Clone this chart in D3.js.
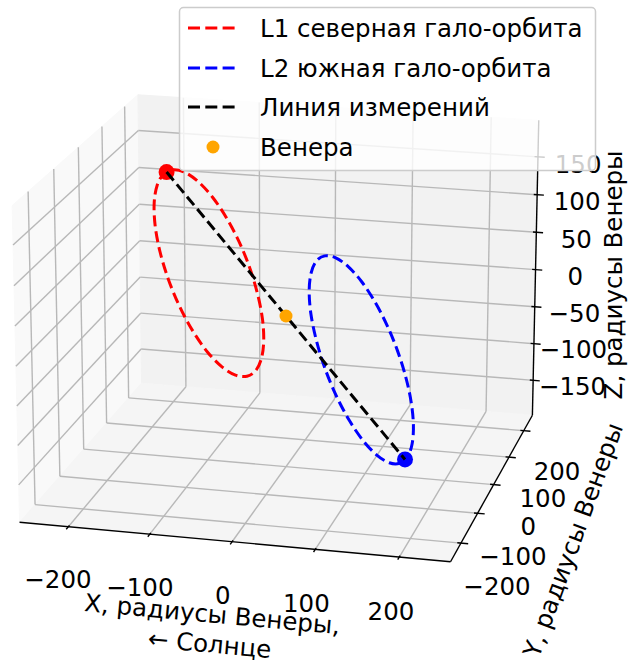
<!DOCTYPE html>
<html><head><meta charset="utf-8">
<script src="https://cdn.jsdelivr.net/npm/d3@7"></script>
<style>
body{margin:0;background:#fff}
svg{display:block}
text{font-family:"DejaVu Sans",sans-serif;fill:#000}
</style></head>
<body>
<svg id="chart" width="630" height="663"></svg>
<script>
// ---------------- data ----------------
const xLim = [-250, 250];
const yLim = [-250, 250];
const zLim = [-190, 190];
const xTicks = [-200, -100, 0, 100, 200];
const yTicks = [-200, -100, 0, 100, 200];
const zTicks = [-150, -100, -50, 0, 50, 100, 150];

// L1 northern halo orbit (x, y, z in Venus radii)
const l1X = [-153, -151, -145.3, -136.2, -124.3, -110.4, -95.5, -80.6, -66.8, -54.8, -45.7, -40, -38, -40, -45.7, -54.8, -66.8, -80.6, -95.5, -110.4, -124.3, -136.2, -145.3, -151];
const l1Y = [0, 35.7, 69, 97.6, 119.5, 133.3, 138, 133.3, 119.5, 97.6, 69, 35.7, 0, -35.7, -69, -97.6, -119.5, -133.3, -138, -133.3, -119.5, -97.6, -69, -35.7];
const l1Z = [171, 166.8, 154.6, 135.1, 109.8, 80.2, 48.5, 16.8, -12.8, -38.1, -57.6, -69.8, -74, -69.8, -57.6, -38.1, -12.8, 16.8, 48.5, 80.2, 109.8, 135.1, 154.6, 166.8];
// L2 southern halo orbit
const l2X = [153, 151, 145.3, 136.2, 124.3, 110.4, 95.5, 80.6, 66.8, 54.8, 45.7, 40, 38, 40, 45.7, 54.8, 66.8, 80.6, 95.5, 110.4, 124.3, 136.2, 145.3, 151];
const l2Y = [0, -35.7, -69, -97.6, -119.5, -133.3, -138, -133.3, -119.5, -97.6, -69, -35.7, 0, 35.7, 69, 97.6, 119.5, 133.3, 138, 133.3, 119.5, 97.6, 69, 35.7];
const l2Z = [-171, -166.8, -154.6, -135.1, -109.8, -80.2, -48.5, -16.8, 12.8, 38.1, 57.6, 69.8, 74, 69.8, 57.6, 38.1, 12.8, -16.8, -48.5, -80.2, -109.8, -135.1, -154.6, -166.8];
// spacecraft positions and Venus
const l1Sat = [-152, 10, 171];
const l2Sat = [152, -10, -171];
const venusPos = [0, 0, 0];
const legendLabels = ["L1 северная гало-орбита", "L2 южная гало-орбита", "Линия измерений", "Венера"];
const seriesColors = ["#ff0000", "#0000ff", "#000000", "#ffa500"];

// ---------------- view ----------------
const elev = 18, azim = -76, dist = 17.5, focal = 3745, cx = 286, cy = 316;
const FS = 24.5;

const pad = r => (r[1] - r[0]) / 48;
const xS = d3.scaleLinear().domain([xLim[0] - pad(xLim), xLim[1] + pad(xLim)]).range([-1, 1]);
const yS = d3.scaleLinear().domain([yLim[0] - pad(yLim), yLim[1] + pad(yLim)]).range([-1, 1]);
const zS = d3.scaleLinear().domain([zLim[0] - pad(zLim), zLim[1] + pad(zLim)]).range([-0.75, 0.75]);

const el = elev * Math.PI / 180, az = azim * Math.PI / 180;
const U = [-Math.sin(az), Math.cos(az), 0];
const V = [-Math.sin(el) * Math.cos(az), -Math.sin(el) * Math.sin(az), Math.cos(el)];
const Wv = [Math.cos(el) * Math.cos(az), Math.cos(el) * Math.sin(az), Math.sin(el)];
const dot = (a, b) => a[0] * b[0] + a[1] * b[1] + a[2] * b[2];
function pb(p) { // box coords -> screen
  const d = dist - dot(p, Wv);
  return [cx + focal * dot(p, U) / d, cy - focal * dot(p, V) / d];
}
const pd = (x, y, z) => pb([xS(x), yS(y), zS(z)]);

const svg = d3.select("#chart");
const line = d3.line();
const X0 = -1, X1 = 1, Y0 = -1, Y1 = 1, Z0 = -0.75, Z1 = 0.75;

// panes
const panes = [
  {c: "#f9f9f9", p: [[X0, Y0, Z0], [X0, Y1, Z0], [X0, Y1, Z1], [X0, Y0, Z1]]},
  {c: "#f2f2f2", p: [[X0, Y1, Z0], [X1, Y1, Z0], [X1, Y1, Z1], [X0, Y1, Z1]]},
  {c: "#f5f5f5", p: [[X0, Y0, Z0], [X1, Y0, Z0], [X1, Y1, Z0], [X0, Y1, Z0]]}
];
svg.append("g").selectAll("path").data(panes).join("path")
  .attr("d", d => line(d.p.map(pb)) + "Z")
  .attr("fill", d => d.c).attr("stroke", d => d.c).attr("stroke-width", 1);

// grid
const grid = [];
xTicks.forEach(t => { const X = xS(t); grid.push([[X, Y0, Z0], [X, Y1, Z0]], [[X, Y1, Z0], [X, Y1, Z1]]); });
yTicks.forEach(t => { const Y = yS(t); grid.push([[X0, Y, Z0], [X1, Y, Z0]], [[X0, Y, Z0], [X0, Y, Z1]]); });
zTicks.forEach(t => { const Z = zS(t); grid.push([[X0, Y1, Z], [X1, Y1, Z]], [[X0, Y0, Z], [X0, Y1, Z]]); });
svg.append("g").selectAll("path").data(grid).join("path")
  .attr("d", d => line(d.map(pb))).attr("fill", "none")
  .attr("stroke", "#b8b8b8").attr("stroke-width", 1.4);

// axis lines
const axes = [[[X0, Y0, Z0], [X1, Y0, Z0]], [[X1, Y0, Z0], [X1, Y1, Z0]], [[X1, Y1, Z0], [X1, Y1, Z1]]];
svg.append("g").selectAll("path").data(axes).join("path")
  .attr("d", d => line(d.map(pb))).attr("fill", "none")
  .attr("stroke", "#000").attr("stroke-width", 1.4);

// ticks
const tin = 0.0167, tout = 0.033, lo = 0.1667, lz = 0.125, ldy = 14;
const tg = svg.append("g");
const tl = svg.append("g").attr("font-size", FS).attr("text-anchor", "middle");
const fmt = v => (v < 0 ? "\u2212" + Math.abs(v) : "" + v);
xTicks.forEach(t => {
  const X = xS(t);
  tg.append("path").attr("d", line([pb([X, Y0 + tin, Z0]), pb([X, Y0 - tout, Z0])]));
  const p = pb([X, Y0 - lo, Z0 - lz]);
  tl.append("text").attr("x", p[0]).attr("y", p[1] + ldy).attr("dy", "0.35em").text(fmt(t));
});
yTicks.forEach(t => {
  const Y = yS(t);
  tg.append("path").attr("d", line([pb([X1 - tin, Y, Z0]), pb([X1 + tout, Y, Z0])]));
  const p = pb([X1 + lo, Y, Z0 - lz]);
  tl.append("text").attr("x", p[0]).attr("y", p[1] + ldy).attr("dy", "0.35em").text(fmt(t));
});
zTicks.forEach(t => {
  const Z = zS(t);
  tg.append("path").attr("d", line([pb([X1 - tin, Y1, Z]), pb([X1 + tout, Y1, Z])]));
  const p = pb([X1 + lo, Y1 + lo, Z]);
  tl.append("text").attr("x", p[0]).attr("y", p[1] + ldy).attr("dy", "0.35em").text(fmt(t));
});
tg.selectAll("path").attr("stroke", "#000").attr("stroke-width", 1.4).attr("fill", "none");

// axis labels
const xa = pb([X0, Y0, Z0]), xb = pb([X1, Y0, Z0]);
const xRot = Math.atan2(xb[1] - xa[1], xb[0] - xa[0]) * 180 / Math.PI;
const xl = svg.append("text").attr("font-size", FS).attr("text-anchor", "middle")
  .attr("transform", `translate(211,629) rotate(${xRot})`);
xl.append("tspan").attr("x", 0).attr("y", -15).attr("dy", "0.35em").text("X, радиусы Венеры,");
xl.append("tspan").attr("x", 0).attr("y", 15).attr("dy", "0.35em").text("\u2190 Солнце");
svg.append("text").attr("font-size", FS).attr("text-anchor", "middle")
  .attr("transform", `translate(573,540) rotate(-70)`).attr("dy", "0.35em").text("Y, радиусы Венеры");
svg.append("text").attr("font-size", FS).attr("text-anchor", "middle")
  .attr("transform", `translate(613,275) rotate(-90)`).attr("dy", "0.35em").text("Z, радиусы Венеры");

// data
const orbit = d3.line().curve(d3.curveCardinalClosed.tension(0));
const l1 = l1X.map((x, i) => pd(x, l1Y[i], l1Z[i]));
const l2 = l2X.map((x, i) => pd(x, l2Y[i], l2Z[i]));
const dg = svg.append("g").attr("fill", "none").attr("stroke-width", 3).attr("stroke-dasharray", "11,5");
dg.append("path").attr("d", orbit(l1)).attr("stroke", seriesColors[0]);
dg.append("path").attr("d", orbit(l2)).attr("stroke", seriesColors[1]);
const s1 = pd(...l1Sat), s2 = pd(...l2Sat), vp = pd(...venusPos);
svg.append("circle").attr("cx", s1[0]).attr("cy", s1[1]).attr("r", 8).attr("fill", seriesColors[0]);
svg.append("circle").attr("cx", s2[0]).attr("cy", s2[1]).attr("r", 8).attr("fill", seriesColors[1]);
svg.append("path").attr("d", line([s1, s2])).attr("fill", "none").attr("stroke", seriesColors[2])
  .attr("stroke-width", 3).attr("stroke-dasharray", "11,5");
svg.append("circle").attr("cx", vp[0]).attr("cy", vp[1]).attr("r", 6.5).attr("fill", seriesColors[3]);

// legend
const lg = svg.append("g");
lg.append("rect").attr("x", 179.5).attr("y", 7.5).attr("width", 416).attr("height", 163).attr("rx", 4)
  .attr("fill", "#fff").attr("fill-opacity", 0.8).attr("stroke", "#cccccc").attr("stroke-width", 1.5);
const rowY = [28, 68, 107, 147];
legendLabels.forEach((lab, i) => {
  if (i < 3) {
    lg.append("line").attr("x1", 188).attr("x2", 237).attr("y1", rowY[i]).attr("y2", rowY[i])
      .attr("stroke", seriesColors[i]).attr("stroke-width", 3).attr("stroke-dasharray", "12,5.3");
  } else {
    lg.append("circle").attr("cx", 213).attr("cy", rowY[i]).attr("r", 6.5).attr("fill", seriesColors[i]);
  }
  lg.append("text").attr("x", 260).attr("y", rowY[i]).attr("dy", "0.35em").attr("font-size", FS).text(lab);
});
</script>
</body></html>
